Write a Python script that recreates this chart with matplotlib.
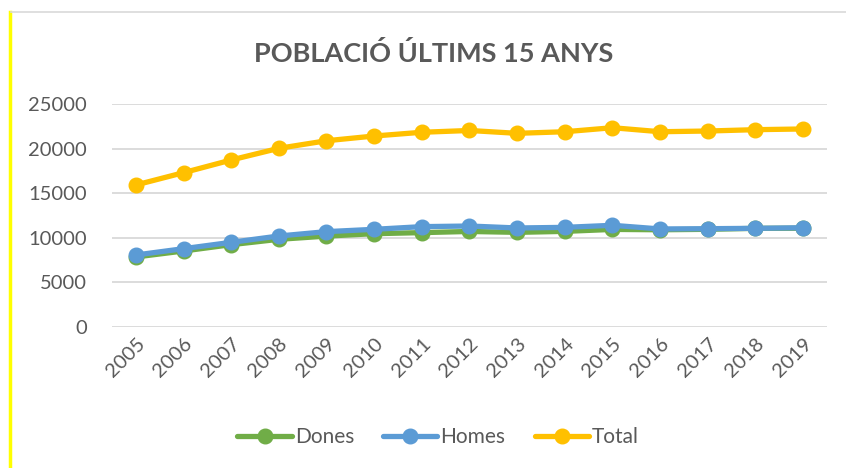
import matplotlib
matplotlib.use("Agg")
import matplotlib.pyplot as plt
from matplotlib.lines import Line2D

# Population of the last 15 years
years = [2005, 2006, 2007, 2008, 2009, 2010, 2011, 2012, 2013, 2014, 2015, 2016, 2017, 2018, 2019]
dones = [7850, 8520, 9230, 9830, 10190, 10460, 10580, 10710, 10610, 10720, 10940, 10900, 10950, 11060, 11070]
homes = [8070, 8780, 9490, 10200, 10690, 10950, 11250, 11320, 11100, 11170, 11400, 10990, 11020, 11060, 11130]
total = [15920, 17300, 18720, 20030, 20880, 21410, 21830, 22030, 21710, 21890, 22340, 21890, 21970, 22120, 22200]

GRAY = "#595959"
plt.rcParams['font.family'] = ['Lato', 'DejaVu Sans']

fig = plt.figure(figsize=(8.46, 4.68), dpi=100)
ax = fig.add_axes([0.1324, 0.3013, 0.8451, 0.4765])

x = list(range(len(years)))
ax.plot(x, dones, color="#70AD47", lw=3.8, marker="o", ms=10.5, label="Dones", solid_capstyle="round")
ax.plot(x, homes, color="#5B9BD5", lw=3.8, marker="o", ms=10.5, label="Homes", solid_capstyle="round")
ax.plot(x, total, color="#FFC000", lw=3.8, marker="o", ms=10.5, label="Total", solid_capstyle="round")

ax.set_xlim(-0.5, len(years) - 0.5)
ax.set_ylim(0, 25000)
ax.set_yticks(range(0, 25001, 5000))
ax.set_xticks(x)
ax.set_xticklabels([str(y) for y in years], rotation=45, ha="right", va="top",
                   rotation_mode="anchor")
ax.grid(axis="y", color="#D9D9D9", lw=1.3)
ax.set_axisbelow(True)
for s in ax.spines.values():
    s.set_visible(False)
ax.tick_params(length=0, labelsize=14.5, colors=GRAY, pad=18)
ax.tick_params(axis="x", pad=6)

fig.text(0.513, 0.886, "POBLACIÓ ÚLTIMS 15 ANYS", ha="center", va="center",
         fontsize=19.5, fontweight="bold", color=GRAY)

leg = fig.legend(loc="center", bbox_to_anchor=(0.518, 0.066), ncol=3, frameon=False,
                 fontsize=15, handlelength=2.6, columnspacing=1.4, handletextpad=0.15)
for t in leg.get_texts():
    t.set_color(GRAY)

# chart border: yellow on the left, light gray on top
fig.add_artist(Line2D([0.0124, 0.0124], [0, 0.975], color="#FFFF00", lw=2.5))
fig.add_artist(Line2D([0.013, 1.0], [0.974, 0.974], color="#D9D9D9", lw=1.2))

fig.savefig("out.png", dpi=100)
